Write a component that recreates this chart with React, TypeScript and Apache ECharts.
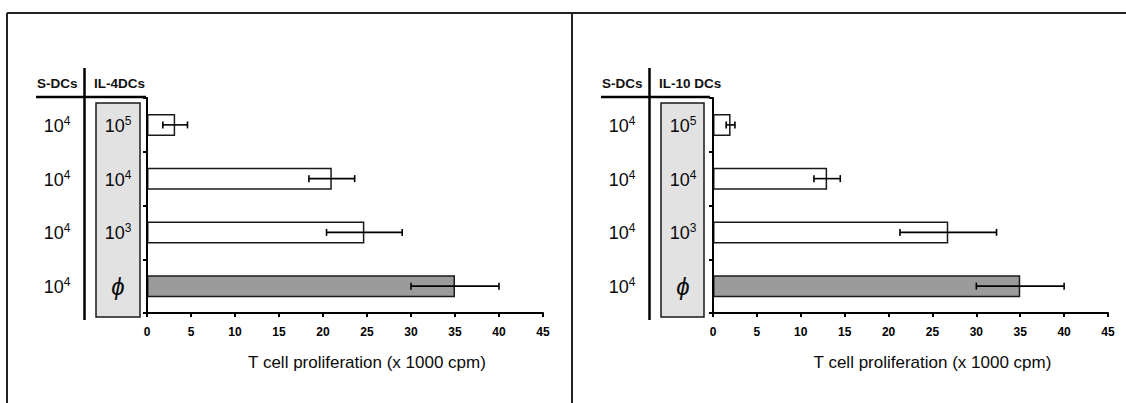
import React, { useEffect, useRef } from "react";
import * as echarts from "echarts";

// ---- data ----
const categories = ["10⁵", "10⁴", "10³", "ϕ"];
const sdcLabels = ["10⁴", "10⁴", "10⁴", "10⁴"];
const il4Values = [3.2, 21, 24.7, 35];
const il4Errors = [1.4, 2.6, 4.3, 5];
const il10Values = [2, 13, 26.8, 35];
const il10Errors = [0.5, 1.5, 5.5, 5];
const headerSdc = "S-DCs";
const headerLeft = "IL-4DCs";
const headerRight = "IL-10 DCs";
const axisTitle = "T cell proliferation (x 1000 cpm)";
const xMin = 0;
const xMax = 45;
const xStep = 5;

const FONT = "'Liberation Sans', Arial, Helvetica, sans-serif";
const SUP: Record<string, string> = { "⁰": "0", "¹": "1", "²": "2", "³": "3", "⁴": "4", "⁵": "5", "⁶": "6" };

const powerLabel = (v: string) => {
  if (v === "ϕ") return `{phi|${v}}`;
  const base = v.replace(/[⁰¹²³⁴⁵⁶]/g, "");
  const exp = v.split("").filter((c) => SUP[c]).map((c) => SUP[c]).join("");
  return `{b|${base}}{s|${exp}}`;
};
const labelRich = {
  b: { fontFamily: FONT, fontSize: 18, color: "#0a0a0a", verticalAlign: "bottom", lineHeight: 20 },
  s: { fontFamily: FONT, fontSize: 12, color: "#0a0a0a", verticalAlign: "top", lineHeight: 19 },
  phi: { fontFamily: FONT, fontSize: 24, fontStyle: "italic", color: "#0a0a0a" },
};

type Panel = {
  values: number[];
  errors: number[];
  header: string;
  gridLeft: number;
  gridWidth: number;
  sdcOffset: number;
  boxMargin: number;
  box: [number, number];
  vline: number;
  hline: [number, number];
  sdcX: number;
  headerX: number;
};

const panels: Panel[] = [
  {
    values: il4Values,
    errors: il4Errors,
    header: headerLeft,
    gridLeft: 147,
    gridWidth: 396,
    sdcOffset: 90,
    boxMargin: 29,
    box: [96, 140],
    vline: 84.5,
    hline: [36, 146],
    sdcX: 37,
    headerX: 94,
  },
  {
    values: il10Values,
    errors: il10Errors,
    header: headerRight,
    gridLeft: 713,
    gridWidth: 395,
    sdcOffset: 91,
    boxMargin: 30,
    box: [661, 704],
    vline: 649.5,
    hline: [601, 710],
    sdcX: 602,
    headerX: 659,
  },
];

export default function App() {
  const ref = useRef<HTMLDivElement>(null);
  useEffect(() => {
    if (!ref.current) return;
    const chart = echarts.init(ref.current, null, { renderer: "svg" });

    const grids: any[] = [];
    const xAxes: any[] = [];
    const yAxes: any[] = [];
    const series: any[] = [];
    const graphics: any[] = [];

    // outer frame
    graphics.push(
      { type: "line", shape: { x1: 7, y1: 13, x2: 1126, y2: 13 }, style: { stroke: "#222", lineWidth: 2 } },
      { type: "line", shape: { x1: 7, y1: 13, x2: 7, y2: 403 }, style: { stroke: "#222", lineWidth: 2 } },
      { type: "line", shape: { x1: 572, y1: 13, x2: 572, y2: 403 }, style: { stroke: "#222", lineWidth: 2 } }
    );

    panels.forEach((p, i) => {
      grids.push({ left: p.gridLeft, width: p.gridWidth, top: 98, height: 215 });
      xAxes.push({
        gridIndex: i,
        type: "value",
        min: xMin,
        max: xMax,
        interval: xStep,
        splitLine: { show: false },
        axisLine: { show: true, lineStyle: { color: "#000", width: 2 } },
        axisTick: { show: true, length: 4, lineStyle: { color: "#000", width: 2 } },
        axisLabel: {
          margin: 13,
          color: "#000",
          fontFamily: FONT,
          fontWeight: "bold",
          fontSize: 12,
        },
        name: axisTitle,
        nameLocation: "middle",
        nameGap: 41,
        nameTextStyle: {
          fontFamily: FONT,
          fontSize: 17,
          color: "#0a0a0a",
          padding: [0, 0, 0, 44],
        },
      });
      yAxes.push({
        gridIndex: i,
        type: "category",
        data: categories,
        inverse: true,
        axisLine: { show: true, lineStyle: { color: "#000", width: 2 } },
        axisTick: { show: true, length: 4, lineStyle: { color: "#000", width: 2 } },
        axisLabel: {
          margin: p.boxMargin,
          align: "center",
          color: "#0a0a0a",
          fontFamily: FONT,
          fontSize: 18,
          formatter: powerLabel,
          rich: labelRich,
        },
        z: 5,
      });
      yAxes.push({
        gridIndex: i,
        type: "category",
        data: sdcLabels,
        inverse: true,
        position: "left",
        offset: p.sdcOffset,
        axisLine: { show: false },
        axisTick: { show: false },
        axisLabel: {
          margin: 0,
          align: "center",
          color: "#0a0a0a",
          fontFamily: FONT,
          fontSize: 18,
          formatter: powerLabel,
          rich: labelRich,
        },
      });
      series.push({
        type: "bar",
        xAxisIndex: i,
        yAxisIndex: i * 2,
        barWidth: 22,
        data: p.values.map((v, k) => ({
          value: v,
          itemStyle: {
            color: categories[k] === "ϕ" ? "#9b9b9b" : "#ffffff",
            borderColor: "#1a1a1a",
            borderWidth: 1.5,
          },
        })),
      });
      series.push({
        type: "custom",
        xAxisIndex: i,
        yAxisIndex: i * 2,
        z: 10,
        encode: { x: [0, 1], y: 2 },
        data: p.values.map((v, k) => [v - p.errors[k], v + p.errors[k], k]),
        renderItem: (params: any, api: any) => {
          const lo = api.coord([api.value(0), api.value(2)]);
          const hi = api.coord([api.value(1), api.value(2)]);
          const h = 3.5;
          const st = { stroke: "#000", lineWidth: 1.6 };
          return {
            type: "group",
            children: [
              { type: "line", shape: { x1: lo[0], y1: lo[1], x2: hi[0], y2: hi[1] }, style: st },
              { type: "line", shape: { x1: lo[0], y1: lo[1] - h, x2: lo[0], y2: lo[1] + h }, style: st },
              { type: "line", shape: { x1: hi[0], y1: hi[1] - h, x2: hi[0], y2: hi[1] + h }, style: st },
            ],
          };
        },
      });

      // table decorations
      graphics.push(
        {
          type: "rect",
          shape: { x: p.box[0], y: 103, width: p.box[1] - p.box[0], height: 214 },
          style: { fill: "#e2e2e2", stroke: "#1a1a1a", lineWidth: 1.5 },
          z: 1,
        },
        { type: "line", shape: { x1: p.vline, y1: 68, x2: p.vline, y2: 320 }, style: { stroke: "#000", lineWidth: 2.5 } },
        { type: "line", shape: { x1: p.hline[0], y1: 97, x2: p.hline[1], y2: 97 }, style: { stroke: "#000", lineWidth: 2.5 } },
        {
          type: "text",
          x: p.sdcX,
          y: 83,
          style: { text: headerSdc, fontFamily: FONT, fontSize: 13.5, fontWeight: "bold", fill: "#111", verticalAlign: "middle", align: "left" },
        },
        {
          type: "text",
          x: p.headerX,
          y: 83,
          style: { text: p.header, fontFamily: FONT, fontSize: 13.5, fontWeight: "bold", fill: "#111", verticalAlign: "middle", align: "left" },
        }
      );
    });

    chart.setOption({
      animation: false,
      backgroundColor: "#ffffff",
      grid: grids,
      xAxis: xAxes,
      yAxis: yAxes,
      series,
      graphic: { elements: graphics },
    });
    return () => chart.dispose();
  }, []);

  return (
    <div
      ref={ref}
      style={{ position: "absolute", left: 0, top: 0, width: 1126, height: 403, background: "#fff" }}
    />
  );
}
